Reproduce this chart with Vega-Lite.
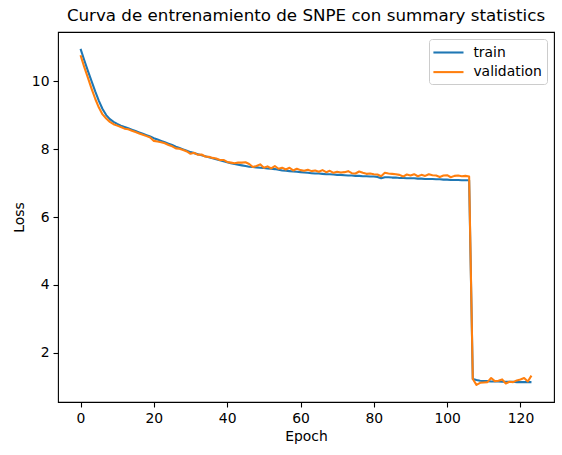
{
  "$schema": "https://vega.github.io/schema/vega-lite/v6.json",
  "description": "Curva de entrenamiento de SNPE: train and validation loss per epoch",
  "width": 496, "height": 370,
  "autosize": {"type": "none"},
  "padding": {"left": 58, "top": 32, "right": 8, "bottom": 53},
  "title": {"text": "Curva de entrenamiento de SNPE con summary statistics", "fontSize": 16.7, "fontWeight": "normal", "font": "DejaVu Sans", "color": "black", "offset": 7},
  "config": {
    "font": "DejaVu Sans",
    "view": {"stroke": "black", "strokeWidth": 1.1},
    "axis": {"grid": false, "domain": false, "tickColor": "black", "tickSize": 5, "tickWidth": 1.1, "labelFontSize": 13.9, "labelColor": "black", "labelPadding": 4, "titleFontSize": 13.9, "titleFontWeight": "normal", "titleColor": "black", "titlePadding": 5}
  },
  "data": {
    "values": [
      {"epoch": 0, "train": 10.95, "validation": 10.76},
      {"epoch": 1, "train": 10.62, "validation": 10.42},
      {"epoch": 2, "train": 10.30, "validation": 10.10},
      {"epoch": 3, "train": 10.00, "validation": 9.78},
      {"epoch": 4, "train": 9.70, "validation": 9.48},
      {"epoch": 5, "train": 9.42, "validation": 9.22},
      {"epoch": 6, "train": 9.18, "validation": 9.02},
      {"epoch": 7, "train": 9.00, "validation": 8.90},
      {"epoch": 8, "train": 8.88, "validation": 8.80},
      {"epoch": 9, "train": 8.80, "validation": 8.73},
      {"epoch": 10, "train": 8.74, "validation": 8.69},
      {"epoch": 11, "train": 8.69, "validation": 8.65},
      {"epoch": 12, "train": 8.65, "validation": 8.60},
      {"epoch": 13, "train": 8.61, "validation": 8.58},
      {"epoch": 14, "train": 8.57, "validation": 8.54},
      {"epoch": 15, "train": 8.53, "validation": 8.50},
      {"epoch": 16, "train": 8.49, "validation": 8.46},
      {"epoch": 17, "train": 8.45, "validation": 8.42},
      {"epoch": 18, "train": 8.41, "validation": 8.38},
      {"epoch": 19, "train": 8.37, "validation": 8.34},
      {"epoch": 20, "train": 8.32, "validation": 8.24},
      {"epoch": 21, "train": 8.28, "validation": 8.22},
      {"epoch": 22, "train": 8.24, "validation": 8.20},
      {"epoch": 23, "train": 8.20, "validation": 8.17},
      {"epoch": 24, "train": 8.16, "validation": 8.12},
      {"epoch": 25, "train": 8.12, "validation": 8.08},
      {"epoch": 26, "train": 8.07, "validation": 8.02},
      {"epoch": 27, "train": 8.03, "validation": 8.01},
      {"epoch": 28, "train": 7.99, "validation": 7.97},
      {"epoch": 29, "train": 7.95, "validation": 7.93},
      {"epoch": 30, "train": 7.91, "validation": 7.86},
      {"epoch": 31, "train": 7.88, "validation": 7.89},
      {"epoch": 32, "train": 7.85, "validation": 7.83},
      {"epoch": 33, "train": 7.82, "validation": 7.84},
      {"epoch": 34, "train": 7.79, "validation": 7.78},
      {"epoch": 35, "train": 7.76, "validation": 7.77},
      {"epoch": 36, "train": 7.73, "validation": 7.74},
      {"epoch": 37, "train": 7.70, "validation": 7.72},
      {"epoch": 38, "train": 7.67, "validation": 7.68},
      {"epoch": 39, "train": 7.64, "validation": 7.68},
      {"epoch": 40, "train": 7.61, "validation": 7.62},
      {"epoch": 41, "train": 7.58, "validation": 7.60},
      {"epoch": 42, "train": 7.56, "validation": 7.58},
      {"epoch": 43, "train": 7.54, "validation": 7.60},
      {"epoch": 44, "train": 7.52, "validation": 7.60},
      {"epoch": 45, "train": 7.50, "validation": 7.61},
      {"epoch": 46, "train": 7.48, "validation": 7.56},
      {"epoch": 47, "train": 7.47, "validation": 7.47},
      {"epoch": 48, "train": 7.46, "validation": 7.50},
      {"epoch": 49, "train": 7.45, "validation": 7.55},
      {"epoch": 50, "train": 7.44, "validation": 7.45},
      {"epoch": 51, "train": 7.43, "validation": 7.49},
      {"epoch": 52, "train": 7.42, "validation": 7.43},
      {"epoch": 53, "train": 7.41, "validation": 7.50},
      {"epoch": 54, "train": 7.39, "validation": 7.42},
      {"epoch": 55, "train": 7.37, "validation": 7.45},
      {"epoch": 56, "train": 7.36, "validation": 7.40},
      {"epoch": 57, "train": 7.35, "validation": 7.45},
      {"epoch": 58, "train": 7.34, "validation": 7.37},
      {"epoch": 59, "train": 7.33, "validation": 7.42},
      {"epoch": 60, "train": 7.32, "validation": 7.38},
      {"epoch": 61, "train": 7.31, "validation": 7.36},
      {"epoch": 62, "train": 7.30, "validation": 7.39},
      {"epoch": 63, "train": 7.29, "validation": 7.35},
      {"epoch": 64, "train": 7.28, "validation": 7.37},
      {"epoch": 65, "train": 7.28, "validation": 7.33},
      {"epoch": 66, "train": 7.27, "validation": 7.38},
      {"epoch": 67, "train": 7.26, "validation": 7.32},
      {"epoch": 68, "train": 7.26, "validation": 7.36},
      {"epoch": 69, "train": 7.25, "validation": 7.30},
      {"epoch": 70, "train": 7.24, "validation": 7.33},
      {"epoch": 71, "train": 7.24, "validation": 7.31},
      {"epoch": 72, "train": 7.23, "validation": 7.32},
      {"epoch": 73, "train": 7.22, "validation": 7.35},
      {"epoch": 74, "train": 7.22, "validation": 7.29},
      {"epoch": 75, "train": 7.21, "validation": 7.28},
      {"epoch": 76, "train": 7.21, "validation": 7.34},
      {"epoch": 77, "train": 7.20, "validation": 7.30},
      {"epoch": 78, "train": 7.20, "validation": 7.27},
      {"epoch": 79, "train": 7.19, "validation": 7.28},
      {"epoch": 80, "train": 7.19, "validation": 7.26},
      {"epoch": 81, "train": 7.18, "validation": 7.25},
      {"epoch": 82, "train": 7.14, "validation": 7.20},
      {"epoch": 83, "train": 7.17, "validation": 7.30},
      {"epoch": 84, "train": 7.17, "validation": 7.28},
      {"epoch": 85, "train": 7.16, "validation": 7.27},
      {"epoch": 86, "train": 7.16, "validation": 7.26},
      {"epoch": 87, "train": 7.15, "validation": 7.24},
      {"epoch": 88, "train": 7.15, "validation": 7.19},
      {"epoch": 89, "train": 7.14, "validation": 7.25},
      {"epoch": 90, "train": 7.14, "validation": 7.22},
      {"epoch": 91, "train": 7.14, "validation": 7.26},
      {"epoch": 92, "train": 7.13, "validation": 7.20},
      {"epoch": 93, "train": 7.13, "validation": 7.24},
      {"epoch": 94, "train": 7.12, "validation": 7.21},
      {"epoch": 95, "train": 7.12, "validation": 7.26},
      {"epoch": 96, "train": 7.12, "validation": 7.23},
      {"epoch": 97, "train": 7.11, "validation": 7.22},
      {"epoch": 98, "train": 7.11, "validation": 7.18},
      {"epoch": 99, "train": 7.10, "validation": 7.22},
      {"epoch": 100, "train": 7.10, "validation": 7.23},
      {"epoch": 101, "train": 7.09, "validation": 7.17},
      {"epoch": 102, "train": 7.09, "validation": 7.21},
      {"epoch": 103, "train": 7.09, "validation": 7.22},
      {"epoch": 104, "train": 7.08, "validation": 7.20},
      {"epoch": 105, "train": 7.08, "validation": 7.21},
      {"epoch": 106, "train": 7.08, "validation": 7.19},
      {"epoch": 107, "train": 1.23, "validation": 1.23},
      {"epoch": 108, "train": 1.20, "validation": 1.06},
      {"epoch": 109, "train": 1.18, "validation": 1.12},
      {"epoch": 110, "train": 1.17, "validation": 1.13},
      {"epoch": 111, "train": 1.17, "validation": 1.14},
      {"epoch": 112, "train": 1.16, "validation": 1.26},
      {"epoch": 113, "train": 1.16, "validation": 1.17},
      {"epoch": 114, "train": 1.16, "validation": 1.18},
      {"epoch": 115, "train": 1.15, "validation": 1.22},
      {"epoch": 116, "train": 1.15, "validation": 1.10},
      {"epoch": 117, "train": 1.15, "validation": 1.15},
      {"epoch": 118, "train": 1.15, "validation": 1.14},
      {"epoch": 119, "train": 1.14, "validation": 1.19},
      {"epoch": 120, "train": 1.14, "validation": 1.22},
      {"epoch": 121, "train": 1.14, "validation": 1.26},
      {"epoch": 122, "train": 1.14, "validation": 1.16},
      {"epoch": 123, "train": 1.14, "validation": 1.33}
    ]
  },
  "transform": [{"fold": ["train", "validation"], "as": ["series", "loss"]}],
  "mark": {"type": "line", "strokeWidth": 2.08, "strokeJoin": "round", "clip": true},
  "encoding": {
    "x": {"field": "epoch", "type": "quantitative", "title": "Epoch",
      "scale": {"domain": [-6.15, 129.15], "nice": false, "zero": false},
      "axis": {"values": [0, 20, 40, 60, 80, 100, 120]}},
    "y": {"field": "loss", "type": "quantitative", "title": "Loss",
      "scale": {"domain": [0.555, 11.445], "nice": false, "zero": false},
      "axis": {"values": [2, 4, 6, 8, 10]}},
    "color": {"field": "series", "type": "nominal",
      "scale": {"domain": ["train", "validation"], "range": ["#1f77b4", "#ff7f0e"]},
      "legend": {"title": null, "orient": "top-right", "offset": 7, "padding": 5, "rowPadding": 3.6,
        "symbolType": "M-1.3,0H3", "symbolSize": 196, "symbolStrokeWidth": 2.08, "labelFontSize": 13.9, "labelColor": "black", "labelOffset": 22.4,
        "strokeColor": "#cccccc", "fillColor": "rgba(255,255,255,0.8)", "cornerRadius": 3}}
  }
}
